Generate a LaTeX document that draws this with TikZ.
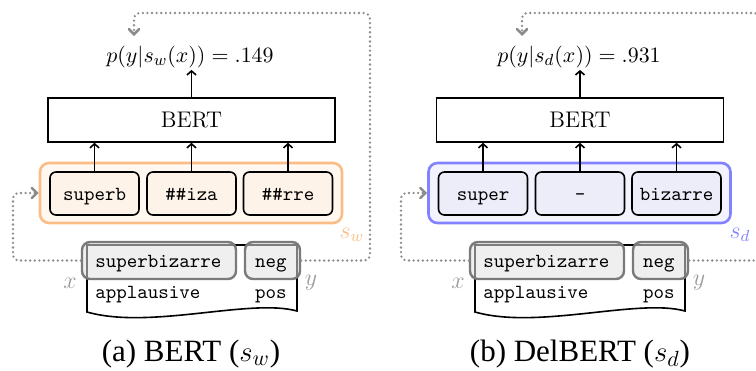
\documentclass[tikz,border=0pt]{standalone}
\usepackage{fontspec}
\newfontfamily\capfont{Liberation Serif}
\usetikzlibrary{arrows.meta,calc}
\definecolor{orline}{HTML}{FBBD85}
\definecolor{orfill}{HTML}{FFF8F0}
\definecolor{ortok}{HTML}{FDF3E9}
\definecolor{blline}{HTML}{8282FF}
\definecolor{blfill}{HTML}{F3F3FF}
\definecolor{bltok}{HTML}{EDEDFA}
\definecolor{hlline}{HTML}{7A7A7A}
\definecolor{hlfill}{HTML}{E2E2E2}
\definecolor{dotgray}{HTML}{8C8C8C}
\definecolor{lblgray}{HTML}{9A9A9A}
\begin{document}
\begin{tikzpicture}[x=0.5pt,y=-0.5pt,
  bertbox/.style={draw,line width=0.8pt,minimum width=143.5pt,minimum height=22pt,inner sep=0pt,font=\fontsize{11.3}{13}\selectfont},
  tokbox/.style={draw,line width=0.8pt,rounded corners=3pt,minimum width=44.5pt,minimum height=21.5pt,inner sep=0pt,text height=7pt,text depth=0.5pt,font=\ttfamily\fontsize{10}{12}\selectfont},
  outbox/.style={draw,line width=1.3pt,rounded corners=4.5pt,minimum width=151pt,minimum height=30pt,inner sep=0pt},
  hlbox/.style={draw=hlline,line width=1.2pt,fill=hlfill,fill opacity=0.55,rounded corners=4pt,minimum height=18.5pt,inner sep=0pt},
  ttxt/.style={font=\ttfamily\fontsize{10}{12}\selectfont,inner sep=0pt},
  formula/.style={font=\fontsize{11.3}{13}\selectfont,inner sep=1pt,anchor=base},
  lbl/.style={font=\fontsize{12}{14}\selectfont,inner sep=0pt},
  captxt/.style={font=\capfont\fontsize{15.5}{18}\selectfont,inner sep=0pt,anchor=base},
  arr/.style={line width=0.8pt,-{Straight Barb[length=2pt,width=4.5pt]}},
  dotline/.style={draw=dotgray,line width=1.3pt,line cap=round,dash pattern=on 0pt off 2.3pt,rounded corners=3pt},
  dotarrow/.style={-{Straight Barb[length=2.5pt,width=5pt,line cap=round]}},
  doc/.style={draw,line width=0.8pt,fill=white}
]
\useasboundingbox (0,0) rectangle (756,370);

% ===== Panel (a) =====
\node[formula] (fa) at (190,62) {$p(y|s_w(x)) = .149$};
\node[bertbox] (berta) at (191.5,120) {BERT};
\node[outbox,draw=orline,fill=orfill] (owa) at (191,193) {};
\node[tokbox,fill=ortok] (ta1) at (94.5,193.5) {superb};
\node[tokbox,fill=ortok] (ta2) at (191.5,193.5) {\#\#iza};
\node[tokbox,fill=ortok] (ta3) at (288,193.5) {\#\#rre};
\foreach \t in {ta1,ta2,ta3} \draw[arr] (\t.north) -- (\t.north |- berta.south);
\draw[arr] (berta.north) -- (berta.north |- fa.south);
\node[lbl,text=orline] (swl) at (352,235) {$s_w$};

\draw[doc] (87,245) -- (297,245) -- (297,311) .. controls (250,298) and (150,330) .. (87,312) -- cycle;
\node[hlbox,minimum width=77pt] (hxa) at (159,260.5) {};
\node[hlbox,minimum width=27.5pt] (hya) at (272.5,260.5) {};
\node[ttxt,anchor=base west] (sba) at (95,267) {superbizarre};
\node[ttxt,anchor=base east] (nga) at (287,267) {neg};
\node[ttxt,anchor=base west] (apa) at (95,298) {applausive};
\node[ttxt,anchor=base east] (psa) at (287,298) {pos};
\node[lbl,text=lblgray] (xla) at (70,283) {$x$};
\node[lbl,text=lblgray] (yla) at (311,283) {$y$};

\coordinate (ra) at (370,13);
\coordinate (tga) at (134,36);
\coordinate (la) at (13,193);
\draw[dotline,dotarrow] (hya.east) -| (ra) -| (tga);
\draw[dotline,dotarrow] (hxa.west) -| (la) -- (owa.west);

\node[captxt] (capa) at (191,361) {(a) BERT ($s_w$)};

% ===== Panel (b) =====
\node[formula] (fb) at (579,62) {$p(y|s_d(x)) = .931$};
\node[bertbox] (bertb) at (580,120) {BERT};
\node[outbox,draw=blline,fill=blfill] (owb) at (579.5,193) {};
\node[tokbox,fill=bltok] (tb1) at (483,193.5) {super};
\node[tokbox,fill=bltok] (tb2) at (580,193.5) {-};
\node[tokbox,fill=bltok] (tb3) at (676.5,193.5) {bizarre};
\foreach \t in {tb1,tb2,tb3} \draw[arr] (\t.north) -- (\t.north |- bertb.south);
\draw[arr] (bertb.north) -- (bertb.north |- fb.south);
\node[lbl,text=blline] (sdl) at (740,235) {$s_d$};

\draw[doc] (475,245) -- (685,245) -- (685,311) .. controls (638,298) and (538,330) .. (475,312) -- cycle;
\node[hlbox,minimum width=77pt] (hxb) at (547,260.5) {};
\node[hlbox,minimum width=27.5pt] (hyb) at (660.5,260.5) {};
\node[ttxt,anchor=base west] (sbb) at (483,267) {superbizarre};
\node[ttxt,anchor=base east] (ngb) at (675,267) {neg};
\node[ttxt,anchor=base west] (apb) at (483,298) {applausive};
\node[ttxt,anchor=base east] (psb) at (675,298) {pos};
\node[lbl,text=lblgray] (xlb) at (458,283) {$x$};
\node[lbl,text=lblgray] (ylb) at (699,283) {$y$};

\coordinate (rb) at (760,13);
\coordinate (tgb) at (522,36);
\coordinate (lb) at (401,193);
\draw[dotline,dotarrow] (hyb.east) -| (rb) -| (tgb);
\draw[dotline,dotarrow] (hxb.west) -| (lb) -- (owb.west);

\node[captxt] (capb) at (580,361) {(b) DelBERT ($s_d$)};
\end{tikzpicture}
\end{document}
